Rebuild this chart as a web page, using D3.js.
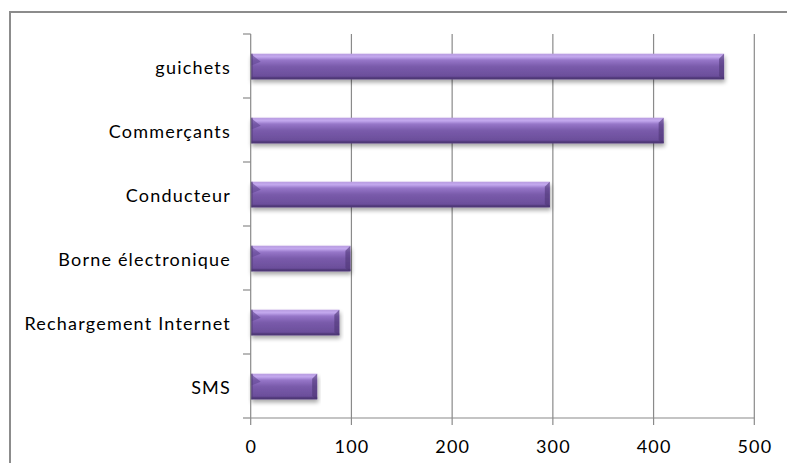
<!DOCTYPE html>
<html><head><meta charset="utf-8">
<script src="https://cdn.jsdelivr.net/npm/d3@7"></script>
<style>body{margin:0;background:#fff}svg{display:block}</style>
</head><body>
<script>
const categories = ["guichets","Commerçants","Conducteur","Borne électronique","Rechargement Internet","SMS"];
const values = [470, 410, 297, 99, 88, 66];
const xTicks = [0,100,200,300,400,500];

const W=787,H=463;
const svg=d3.select("body").append("svg").attr("width",W).attr("height",H);
const defs=svg.append("defs");
const g=defs.append("linearGradient").attr("id","barg").attr("x1",0).attr("y1",0).attr("x2",0).attr("y2",1);
[[0,"#b89ce0"],[0.12,"#c3a8ee"],[0.25,"#9676c8"],[0.5,"#7a5bab"],[0.85,"#6c4f9c"],[1,"#553c80"]].forEach(s=>g.append("stop").attr("offset",s[0]).attr("stop-color",s[1]));
const f=defs.append("filter").attr("id","sh").attr("x","-5%").attr("y","-20%").attr("width","110%").attr("height","160%");
f.append("feGaussianBlur").attr("in","SourceAlpha").attr("stdDeviation",2);
f.append("feOffset").attr("dx",1).attr("dy",3).attr("result","b");
f.append("feComponentTransfer").append("feFuncA").attr("type","linear").attr("slope",0.35);
const m=f.append("feMerge");m.append("feMergeNode");m.append("feMergeNode").attr("in","SourceGraphic");

svg.append("rect").attr("x",10).attr("y",12).attr("width",800).attr("height",470).attr("fill","#fff").attr("stroke","#8c8c8c").attr("stroke-width",2);

const x=d3.scaleLinear().domain([0,500]).range([250.7,754.3]);
const y=d3.scaleBand().domain(categories).range([34,418]).paddingInner(0.6).paddingOuter(0.3);
const yb=d3.scaleBand().domain(categories).range([34,418]);

// gridlines
svg.append("g").selectAll("line").data(xTicks.slice(1)).join("line")
 .attr("x1",d=>x(d)).attr("x2",d=>x(d)).attr("y1",34).attr("y2",418)
 .attr("stroke","#8a8a8a").attr("stroke-width",1.2);

// bars
const bars=svg.append("g").selectAll("g").data(categories).join("g").attr("filter","url(#sh)");
bars.append("rect").attr("x",x(0)).attr("y",d=>y(d)+0.5).attr("width",(d,i)=>x(values[i])-x(0)).attr("height",y.bandwidth())
 .attr("fill","url(#barg)");
// bevel left (top-left corner triangle)
bars.append("path").attr("d",d=>{const y0=y(d)+0.5;return `M${x(0)},${y0}L${x(0)+10},${y0+8}L${x(0)},${y0+12}Z`;}).attr("fill","#5f4590").attr("opacity",0.6);
bars.append("rect").attr("x",x(0)).attr("y",d=>y(d)+0.5).attr("width",2).attr("height",y.bandwidth()).attr("fill","#4e3776").attr("opacity",0.6);
// bevel right
bars.append("path").attr("d",(d,i)=>{const y0=y(d)+0.5,xe=x(values[i]);return `M${xe},${y0}L${xe-5},${y0+5}L${xe-5},${y0+y.bandwidth()-3}L${xe},${y0+y.bandwidth()}Z`;}).attr("fill","#4e3776").attr("opacity",0.6);
bars.append("rect").attr("x",x(0)).attr("y",d=>y(d)+y.bandwidth()-1.5).attr("width",(d,i)=>x(values[i])-x(0)).attr("height",2).attr("fill","#4a3470").attr("opacity",0.7);

// axes
const ax=svg.append("g").attr("stroke","#8a8a8a").attr("stroke-width",1.2);
ax.append("line").attr("x1",x(0)).attr("x2",x(0)).attr("y1",34).attr("y2",418);
ax.append("line").attr("x1",x(0)).attr("x2",x(500)).attr("y1",418).attr("y2",418);
const yt=categories.map(c=>yb(c)).concat([418]);
ax.selectAll(".yt").data(yt).join("line").attr("x1",243).attr("x2",x(0)).attr("y1",d=>d).attr("y2",d=>d);
ax.selectAll(".xt").data(xTicks).join("line").attr("x1",d=>x(d)).attr("x2",d=>x(d)).attr("y1",418).attr("y2",425);

const font="Lato, 'Open Sans', sans-serif";
svg.append("g").selectAll("text").data(categories).join("text")
 .attr("x",231).attr("y",d=>yb(d)+yb.bandwidth()/2+1).attr("text-anchor","end").attr("dominant-baseline","central")
 .attr("font-family",font).attr("font-size",18).attr("letter-spacing",1.2).attr("fill","#000").text(d=>d);
svg.append("g").selectAll("text").data(xTicks).join("text")
 .attr("x",d=>x(d)+0.6).attr("y",446).attr("text-anchor","middle").attr("dominant-baseline","central")
 .attr("font-family",font).attr("font-size",18).attr("letter-spacing",1.2).attr("fill","#000").text(d=>d);
</script>
</body></html>
